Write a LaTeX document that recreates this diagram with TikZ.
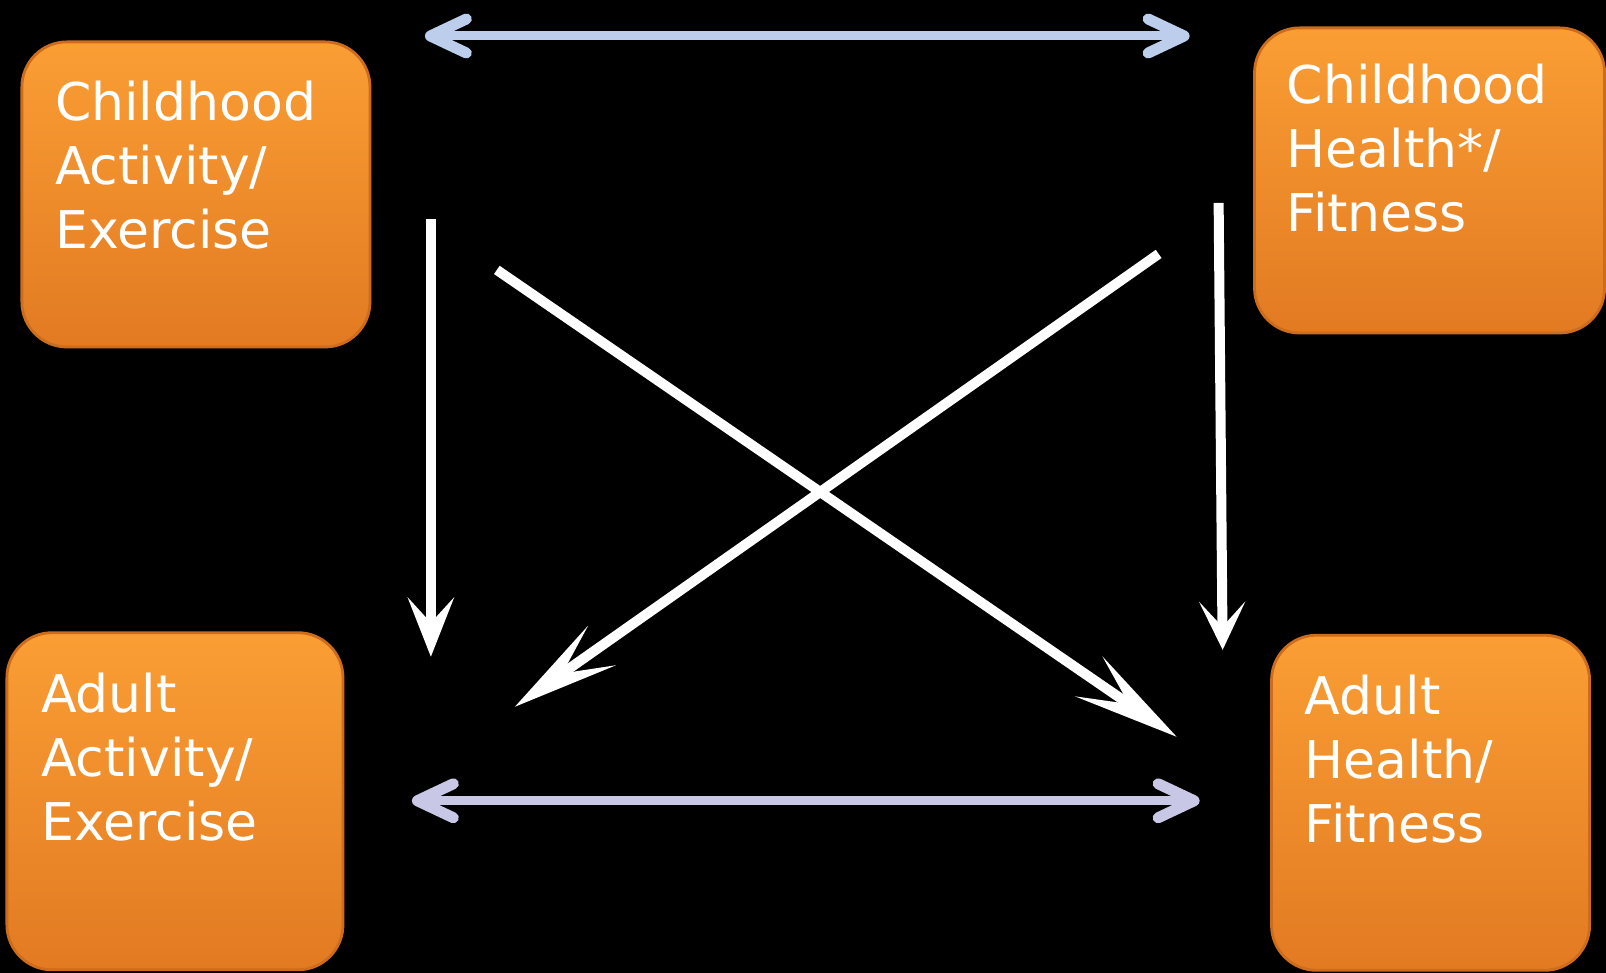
\documentclass[tikz,border=0pt]{standalone}
\usepackage{fontspec}
\setmainfont{DejaVu Sans}
\usetikzlibrary{positioning, arrows.meta}

\definecolor{boxtop}{RGB}{250,158,52}
\definecolor{boxbot}{RGB}{226,122,34}
\definecolor{boxrim}{RGB}{204,108,28}
\definecolor{linktop}{RGB}{188,206,236}
\definecolor{linkbot}{RGB}{200,200,230}

\begin{document}
\begin{tikzpicture}[x=0.01cm, y=-0.01cm,
  box/.style={rectangle, rounded corners=0.45cm, top color=boxtop, bottom color=boxbot, draw=boxrim, line width=0.8pt, inner sep=0pt},
  boxtext/.style={anchor=north west, inner sep=0pt, align=left, text=white, font=\fontsize{14.8pt}{18.2pt}\selectfont},
  link/.style={<->, >={Straight Barb[length=3.6mm,width=3.4mm,line width=1.1mm,round]}, line width=0.9mm},
  effect/.style={white, line width=1mm},
  downhead/.style={-{Stealth[length=#1,width=4.6mm,inset=2.5mm]}},
  crosshead/.style={-{Stealth[length=10.6mm,width=4.8mm,inset=4.8mm]}}]
  \fill[black] (0,0) rectangle (1606,973);

  % the four boxes
  \node[box, minimum width=3.48cm, minimum height=3.05cm] (cae) at (196,194.5) {};
  \node[box, minimum width=3.5cm, minimum height=3.05cm] (chf) at (1430,180.5) {};
  \node[box, minimum width=3.36cm, minimum height=3.37cm] (aae) at (175,801.5) {};
  \node[box, minimum width=3.18cm, minimum height=3.35cm] (ahf) at (1431,803) {};

  \node[boxtext, below right=0.4cm and 0.34cm of cae.north west] (cae-txt) {Childhood\\Activity/\\Exercise};
  \node[boxtext, below right=0.37cm and 0.33cm of chf.north west] (chf-txt) {Childhood\\Health*/\\Fitness};
  \node[boxtext, below right=0.41cm and 0.35cm of aae.north west] (aae-txt) {Adult\\Activity/\\Exercise};
  \node[boxtext, below right=0.4cm and 0.34cm of ahf.north west] (ahf-txt) {Adult\\Health/\\Fitness};

  % arrow ends
  \coordinate (top-l) at (425,36);
  \coordinate (top-r) at (1190,36);
  \coordinate (bot-l) at (412,801);
  \coordinate (bot-r) at (1200,801);
  \coordinate (vl-a) at (431,219);
  \coordinate (vl-b) at (431,657);
  \coordinate (vr-a) at (1219,203);
  \coordinate (vr-b) at (1223,650);
  \coordinate (d1-a) at (497,270);
  \coordinate (d1-b) at (1177,737);
  \coordinate (d2-a) at (1159,254);
  \coordinate (d2-b) at (515,707);

  \draw[link, linktop] (top-l) -- (top-r);
  \draw[link, linkbot] (bot-l) -- (bot-r);

  \draw[effect, downhead=5.9mm] (vl-a) -- (vl-b);
  \draw[effect, downhead=4.8mm] (vr-a) -- (vr-b);
  \draw[effect, crosshead] (d1-a) -- (d1-b);
  \draw[effect, crosshead] (d2-a) -- (d2-b);
\end{tikzpicture}
\end{document}
